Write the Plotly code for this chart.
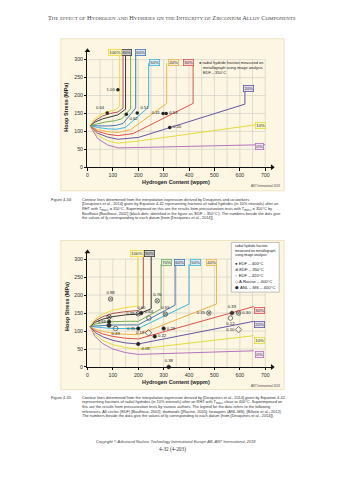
import plotly.graph_objects as go

W, H = 343, 480


def px(x):
    return x / W


def py(y):
    return 1 - y / H


fractions = ["0%", "10%", "20%", "30%", "40%", "50%", "60%", "70%", "80%", "90%", "100%"]
line_colors = ["#B672BE", "#E4DC3A", "#6656A6", "#E0514B", "#F0B347", "#3FB6DA",
               "#4677B8", "#73AD55", "#3A3A3A", "#B3524C", "#F1DB3E"]
box_fills = ["#F1E0F2", "#FBF7C8", "#E2DEF0", "#F8D9D6", "#FCEBCB", "#D7F0F8",
             "#D9E4F3", "#E1EFD8", "#C9C9C9", "#EFD5D2", "#FBF4C2"]

x_ticks = [0, 100, 200, 300, 400, 500, 600, 700]
y_ticks = [0, 50, 100, 150, 200, 250, 300]
x_end = 727.5

# ---------------- Figure 4-34 (top) ----------------
top_cx = [
    [10, 40, 80, 120, 200, 700],
    [10, 40, 80, 120, 200, 700],
    [10, 40, 80, 120, 200, 620, 620],
    [10, 40, 80, 120, 180, 416, 416],
    [10, 40, 80, 120, 170, 312, 312],
    [10, 40, 80, 115, 150, 241, 241],
    [10, 40, 80, 115, 140, 190, 190],
    [10, 35, 70, 110, 135, 170, 170],
    [10, 30, 60, 90, 120, 150, 150],
    [10, 30, 60, 90, 120, 140, 140],
    [10, 25, 50, 80, 110, 127, 127],
]
top_cy = [
    [116, 80, 62, 54, 55, 63],
    [116, 89, 74, 67, 73, 122],
    [116, 95, 84, 78, 83, 176, 212],
    [116, 100, 92, 88, 94, 178, 290],
    [116, 105, 99, 97, 105, 178, 290],
    [116, 111, 107, 106, 111, 168, 290],
    [116, 115, 115, 117, 122, 165, 315],
    [116, 121, 126, 130, 135, 163, 335],
    [116, 126, 135, 141, 146, 162, 315],
    [116, 130, 143, 150, 154, 165, 335],
    [116, 132, 146, 155, 160, 170, 315],
]
top_lbl_x = [678, 680, 635, 397, 338, 263, 207, 172, 152, 128, 110]
top_lbl_y = [57, 117, 219, 292, 292, 292, 320, 341, 320, 341, 320]

top_dot_x = [120, 78, 153, 196, 298, 310, 324]
top_dot_y = [216, 151, 148, 151, 150, 150, 111]
top_dot_txt = ["1.00", "0.64", "0.62", "0.51", "0.41", "0.53", "0.20"]
top_dot_pos = ["middle left", "top left", "bottom right", "top right",
               "middle left", "middle right", "middle right"]

# ---------------- Figure 4-35 (bottom) ----------------
bot_cx = [
    [10, 30, 60, 100, 150, 200, 655],
    [10, 30, 60, 100, 150, 200, 655],
    [10, 30, 60, 100, 150, 200, 655],
    [10, 30, 60, 100, 150, 200, 655],
    [10, 30, 60, 100, 150, 200, 508, 508],
    [10, 40, 80, 120, 200, 400, 400],
    [10, 40, 80, 120, 200, 345, 345],
    [10, 30, 60, 100, 150, 200, 290, 290],
    [10, 30, 60, 100, 150, 200, 251, 251],
    [10, 30, 60, 100, 150, 200, 220, 220],
    [10, 30, 60, 100, 150, 199, 199],
]
bot_cy = [
    [113, 85, 65, 50, 40, 35, 45],
    [113, 91, 74, 62, 54, 50, 87],
    [113, 96, 84, 74, 67, 64, 127],
    [113, 101, 92, 85, 80, 78, 168],
    [113, 105, 99, 94, 91, 90, 175, 286],
    [113, 110, 108, 107, 107, 175, 286],
    [113, 115, 116, 117, 117, 172, 286],
    [113, 119, 123, 126, 127, 127, 162, 286],
    [113, 124, 133, 140, 145, 147, 162, 312],
    [113, 128, 140, 149, 154, 157, 165, 330],
    [113, 132, 147, 158, 165, 170, 312],
]
bot_lbl_x = [677, 677, 677, 677, 490, 425, 364, 312, 245, 215, 196]
bot_lbl_y = [35, 75, 118, 157, 290, 290, 290, 290, 316, 336, 316]

edf400_x = [85, 212, 200, 300, 265, 200]
edf400_y = [126, 150, 107, 107, 85, 64]
edf400_t = ["0.69", "0.60", "0.35", "0.29", "0.22", "0.08"]
edf400_p = ["middle left", "top center", "middle left", "middle right", "middle right", "bottom right"]

edf350_x = [91, 275, 307, 478, 595, 200]
edf350_y = [189, 184, 147, 150, 150, 148]
edf350_t = ["0.88", "0.76", "0.55", "0.35", "0.30", "0.39"]
edf350_p = ["top center", "top center", "top center", "middle left", "middle right", "middle left"]

edf420_x = [242, 111, 563]
edf420_y = [136, 107, 136]
edf420_t = ["0.64", "0.49", "0.12"]
edf420_p = ["top center", "bottom center", "bottom center"]

racine_x = [240, 595]
racine_y = [95, 104]
racine_t = ["0.18", "0.10"]
racine_p = ["middle left", "middle left"]

anl_x = [320, 569]
anl_y = [0, 150]
anl_t = ["0.38", "0.39"]
anl_p = ["top center", "top center"]

cluster_x = [85, 85]
cluster_y = [139, 116]

fig = go.Figure()

SANS = "Liberation Sans"
SERIF = "Liberation Serif"

for i in range(len(fractions)):
    fig.add_trace(go.Scatter(x=top_cx[i], y=top_cy[i], mode="lines",
                             line=dict(color=line_colors[i], width=1),
                             xaxis="x", yaxis="y", hoverinfo="skip", cliponaxis=False))
    fig.add_trace(go.Scatter(x=bot_cx[i], y=bot_cy[i], mode="lines",
                             line=dict(color=line_colors[i], width=1),
                             xaxis="x2", yaxis="y2", hoverinfo="skip", cliponaxis=False))

fig.add_trace(go.Scatter(x=top_dot_x, y=top_dot_y, mode="markers+text", text=top_dot_txt,
                         textposition=top_dot_pos, textfont=dict(size=4.2, family=SANS, color="#222"),
                         marker=dict(color="#222", size=3.5), xaxis="x", yaxis="y", cliponaxis=False))


def add_pts(xs, ys, ts, ps, sym, size, color, lw=0.7):
    fig.add_trace(go.Scatter(x=xs, y=ys, mode="markers+text", text=ts, textposition=ps,
                             textfont=dict(size=4.2, family=SANS, color="#222"),
                             marker=dict(symbol=sym, size=size, color=color,
                                         line=dict(color="#333", width=lw)),
                             xaxis="x2", yaxis="y2", cliponaxis=False))


add_pts(edf400_x, edf400_y, edf400_t, edf400_p, "circle", 3.5, "#222")
add_pts(edf350_x, edf350_y, edf350_t, edf350_p, "circle-x-open", 4.5, "#444")
add_pts(edf420_x, edf420_y, edf420_t, edf420_p, "circle-open", 4.5, "#444")
add_pts(racine_x, racine_y, racine_t, racine_p, "diamond-open", 5, "#444")
add_pts(anl_x, anl_y, anl_t, anl_p, "hexagon", 4, "#333")
fig.add_trace(go.Scatter(x=cluster_x, y=cluster_y, mode="markers",
                         marker=dict(symbol=["circle-x-open", "hexagon"], size=4.5, color="#333",
                                     line=dict(color="#333", width=0.7)),
                         xaxis="x2", yaxis="y2", cliponaxis=False))

for xa, ya, ymax in [("x", "y", 325), ("x2", "y2", 320)]:
    fig.add_trace(go.Scatter(x=[x_end, 0], y=[0, ymax], mode="markers",
                             marker=dict(symbol=["triangle-right", "triangle-up"], size=5, color="#111",
                                         line=dict(width=0)),
                             xaxis=xa, yaxis=ya, cliponaxis=False, hoverinfo="skip"))

shapes = []
for (y0, y1) in [(39, 192), (242, 392)]:
    shapes.append(dict(type="rect", xref="paper", yref="paper", x0=px(60), x1=px(284),
                       y0=py(y1), y1=py(y0), fillcolor="#FCF6E2",
                       line=dict(color="#E9DEBB", width=0.8), layer="below"))
for xa, ya in [("x", "y"), ("x2", "y2")]:
    for gx in range(50, 701, 50):
        shapes.append(dict(type="line", xref=xa, yref=ya, x0=gx, x1=gx, y0=0, y1=300,
                           line=dict(color="#CDCBC3", width=0.6), layer="below"))
    for gy in range(50, 301, 50):
        shapes.append(dict(type="line", xref=xa, yref=ya, x0=0, x1=700, y0=gy, y1=gy,
                           line=dict(color="#CDCBC3", width=0.6), layer="below"))
shapes.append(dict(type="rect", xref="paper", yref="paper", x0=px(231), x1=px(279),
                   y0=py(294), y1=py(244), fillcolor="white",
                   line=dict(color="#9A9A9A", width=0.6), layer="above"))

ann = []


def note(x, y, text, size, family=SANS, color="#222", xanchor="center", **kw):
    ann.append(dict(x=px(x), y=py(y), xref="paper", yref="paper", text=text, showarrow=False,
                    xanchor=xanchor, yanchor="middle", font=dict(size=size, family=family, color=color), **kw))


for i in range(len(fractions)):
    for xa, ya, lx, ly in [("x", "y", top_lbl_x[i], top_lbl_y[i]),
                           ("x2", "y2", bot_lbl_x[i], bot_lbl_y[i])]:
        ann.append(dict(x=lx, y=ly, xref=xa, yref=ya, text=fractions[i], showarrow=False,
                        xanchor="center", yanchor="middle",
                        font=dict(size=4.4, family=SANS, color="#333"),
                        bgcolor=box_fills[i], bordercolor=line_colors[i], borderwidth=0.8,
                        borderpad=0.4))

for yt, xt in [(108, 182.7), (308.5, 384.3)]:
    note(65.5, yt, "<b>Hoop Stress (MPa)</b>", 5.5, textangle=-90)
    note(176, xt, "<b>Hydrogen Content (wppm)</b>", 5.4)
for yy in [187.5, 388.8]:
    note(282, yy, "ANT International 2018", 2.8, color="#444", xanchor="right")

top_leg = ["\u25CF radial hydride fraction measured on", "metallograph using image analysis", "EDF \u2013 350\u00b0C"]
for k, t in enumerate(top_leg):
    note(197 if k == 0 else 200.5, 63 + 5 * k, t, 3.9, xanchor="left")

bot_leg_head = ["radial hydride fraction", "measured on metallograph", "using image analysis:"]
for k, t in enumerate(bot_leg_head):
    note(233, 248 + 4.3 * k, t, 3.4, xanchor="left")
bot_leg = ["\u25CF EDF \u2013 400\u00b0C", "\u2297 EDF \u2013 350\u00b0C", "\u25CB EDF \u2013 420\u00b0C",
           "\u25C7 A.Racine \u2013 400\u00b0C", "\u2B22 ANL \u2013 MS \u2013 400\u00b0C"]
for k, t in enumerate(bot_leg):
    note(233, 265 + 6.1 * k, t, 4.2, xanchor="left")


def sc(words):
    out = []
    for w in words:
        if w[0].isupper():
            out.append(w[0] + '<span style="font-size:4.9px">' + w[1:].upper() + '</span>')
        else:
            out.append('<span style="font-size:4.9px">' + w.upper() + '</span>')
    return " ".join(out)


header = sc("The effect of Hydrogen and Hydrides on the Integrity of Zirconium Alloy Components".split())
note(172, 18, header, 6.3, family=SERIF, color="#444")

cap34 = [
    "Contour lines determined from the interpolation expression derived by Desquines and co-workers",
    "[Desquines et al., 2014] given by Equation 4-42 representing fractions of radial hydrides (in 10% intervals) after an",
    "RHT with T<sub>max,c</sub> = 350\u00b0C. Superimposed on this are the results from pressurization tests with T<sub>max,c</sub> = 350\u00b0C by",
    "Bouffioux [Bouffioux, 2002] (black dots; identified in the figure as \u2018EDF \u2013 350\u00b0C\u2019). The numbers beside the dots give",
    "the values of <i>f</i><sub>R</sub> corresponding to each datum [from [Desquines et al., 2014]].",
]
cap35 = [
    "Contour lines determined from the interpolation expression derived by [Desquines et al., 2014] given by Equation 4-42",
    "representing fractions of radial hydrides (in 10% intervals) after an RHT with T<sub>max,c</sub> close to 400\u00b0C. Superimposed on",
    "this are the results from pressurization tests by various authors. The legend for the dots refers to the following",
    "references: All circles (EDF) [Bouffioux, 2002]; diamonds ([Racine, 2005]; hexagons (ANL-MS), [Billone et al., 2012].",
    "The numbers beside the data give the values of <i>f</i><sub>R</sub> corresponding to each datum [from [Desquines et al., 2014]].",
]
for lab, lines, y0 in [("Figure 4-34:", cap34, 200.5), ("Figure 4-35:", cap35, 400)]:
    note(48, y0, lab, 3.9, color="#333", xanchor="left")
    for k, t in enumerate(lines):
        note(79, y0 + 4.7 * k, t, 3.9, color="#333", xanchor="left")

note(175.5, 444, "<i>Copyright \u00a9 Advanced Nuclear Technology International Europe AB, ANT International, 2018</i>",
     3.9, color="#444")
note(171.5, 452.5, "4-32 (4-203)", 5.3, family=SERIF, color="#333")

axis_common = dict(showgrid=False, zeroline=False, showline=True, linecolor="#111", linewidth=1,
                   ticks="outside", ticklen=2.5, tickwidth=0.8, tickcolor="#111",
                   tickfont=dict(size=5.2, family=SANS, color="#333"), fixedrange=True)

fig.update_layout(
    width=W, height=H, margin=dict(l=0, r=0, t=0, b=0), autosize=False,
    paper_bgcolor="white", plot_bgcolor="rgba(0,0,0,0)", showlegend=False,
    xaxis=dict(domain=[px(86.7), px(272)], range=[0, x_end], anchor="y", tickvals=x_ticks, **axis_common),
    yaxis=dict(domain=[py(168.3), py(51)], range=[0, 325], anchor="x", tickvals=y_ticks, **axis_common),
    xaxis2=dict(domain=[px(86.7), px(272)], range=[0, x_end], anchor="y2", tickvals=x_ticks, **axis_common),
    yaxis2=dict(domain=[py(369.3), py(253.5)], range=[0, 320], anchor="x2", tickvals=y_ticks, **axis_common),
    shapes=shapes, annotations=ann,
)

fig.write_html("out.html")
